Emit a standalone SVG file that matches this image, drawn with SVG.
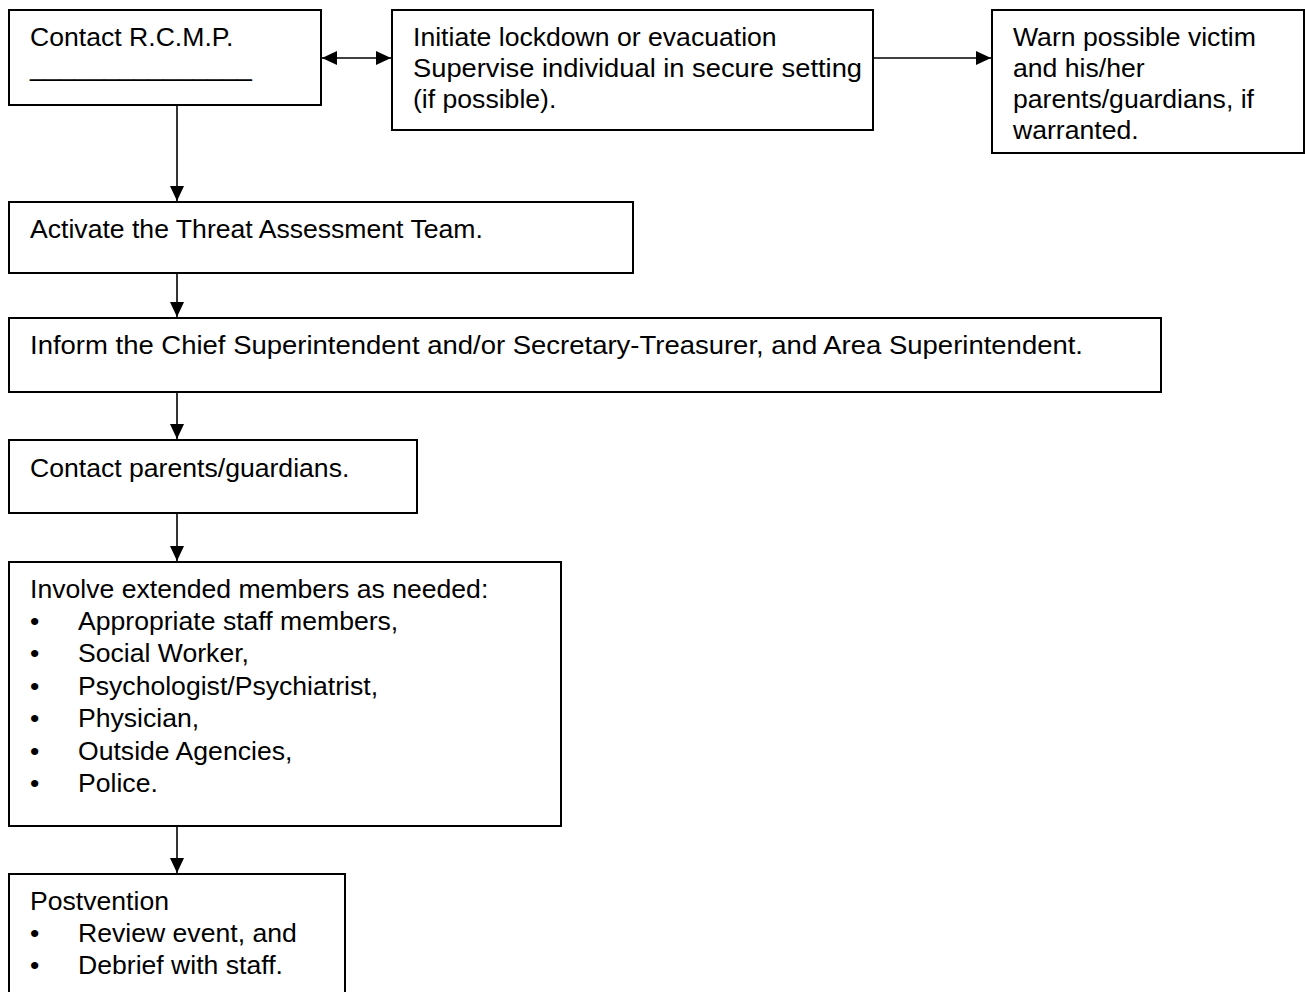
<svg xmlns="http://www.w3.org/2000/svg" width="1305" height="992" viewBox="0 0 1305 992">
<style>
.box{fill:#fff;stroke:#000;stroke-width:2}
.t{font-family:"Liberation Sans",Arial,sans-serif;font-size:26.6px;fill:#000}
.c{stroke:#000;stroke-width:1.6;fill:none}
</style>
<defs>
<marker id="ah" markerWidth="15" markerHeight="14" refX="15" refY="7" orient="auto-start-reverse" markerUnits="userSpaceOnUse">
<path d="M0,0 L15,7 L0,14 Z" fill="#000"/>
</marker>
</defs>
<rect width="1305" height="992" fill="#fff"/>
<g id="connectors">
<line class="c" x1="322" y1="58" x2="391" y2="58" marker-start="url(#ah)" marker-end="url(#ah)"/>
<line class="c" x1="874" y1="58" x2="991" y2="58" marker-end="url(#ah)"/>
<line class="c" x1="177" y1="106" x2="177" y2="201" marker-end="url(#ah)"/>
<line class="c" x1="177" y1="274" x2="177" y2="317" marker-end="url(#ah)"/>
<line class="c" x1="177" y1="393" x2="177" y2="439" marker-end="url(#ah)"/>
<line class="c" x1="177" y1="514" x2="177" y2="561" marker-end="url(#ah)"/>
<line class="c" x1="177" y1="827" x2="177" y2="873" marker-end="url(#ah)"/>
</g>
<g id="n1">
<rect class="box" x="9" y="10" width="312" height="95"/>
<text class="t" x="30" y="46">Contact R.C.M.P.</text>
<text class="t" x="30" y="76">_______________</text>
</g>
<g id="n2">
<rect class="box" x="392" y="10" width="481" height="120"/>
<text class="t" x="413" y="46">Initiate lockdown or evacuation</text>
<text class="t" x="413" y="77" textLength="449" lengthAdjust="spacingAndGlyphs">Supervise individual in secure setting</text>
<text class="t" x="413" y="108">(if possible).</text>
</g>
<g id="n3">
<rect class="box" x="992" y="10" width="312" height="143"/>
<text class="t" x="1013" y="46">Warn possible victim</text>
<text class="t" x="1013" y="77">and his/her</text>
<text class="t" x="1013" y="108">parents/guardians, if</text>
<text class="t" x="1013" y="139">warranted.</text>
</g>
<g id="n4">
<rect class="box" x="9" y="202" width="624" height="71"/>
<text class="t" x="30" y="238">Activate the Threat Assessment Team.</text>
</g>
<g id="n5">
<rect class="box" x="9" y="318" width="1152" height="74"/>
<text class="t" x="30" y="354" textLength="1053" lengthAdjust="spacingAndGlyphs">Inform the Chief Superintendent and/or Secretary-Treasurer, and Area Superintendent.</text>
</g>
<g id="n6">
<rect class="box" x="9" y="440" width="408" height="73"/>
<text class="t" x="30" y="477">Contact parents/guardians.</text>
</g>
<g id="n7">
<rect class="box" x="9" y="562" width="552" height="264"/>
<text class="t" x="30" y="598">Involve extended members as needed:</text>
<text class="t" x="30" y="630">•</text><text class="t" x="78" y="630">Appropriate staff members,</text>
<text class="t" x="30" y="662">•</text><text class="t" x="78" y="662">Social Worker,</text>
<text class="t" x="30" y="695">•</text><text class="t" x="78" y="695">Psychologist/Psychiatrist,</text>
<text class="t" x="30" y="727">•</text><text class="t" x="78" y="727">Physician,</text>
<text class="t" x="30" y="760">•</text><text class="t" x="78" y="760">Outside Agencies,</text>
<text class="t" x="30" y="792">•</text><text class="t" x="78" y="792">Police.</text>
</g>
<g id="n8">
<rect class="box" x="9" y="874" width="336" height="140"/>
<text class="t" x="30" y="910">Postvention</text>
<text class="t" x="30" y="942">•</text><text class="t" x="78" y="942">Review event, and</text>
<text class="t" x="30" y="974">•</text><text class="t" x="78" y="974">Debrief with staff.</text>
</g>
</svg>
